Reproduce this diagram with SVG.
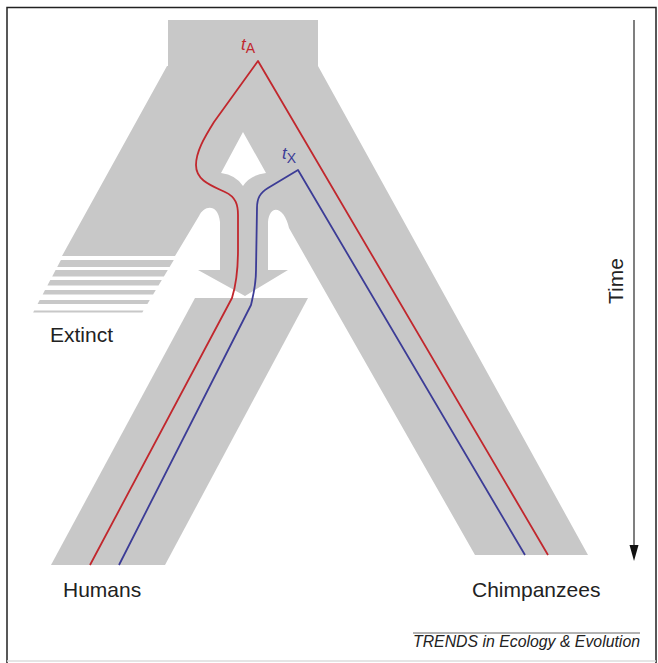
<svg xmlns="http://www.w3.org/2000/svg" width="658" height="663" viewBox="0 0 658 663">
<defs>
<style>
.grey{fill:#c8c8c8;stroke:none}
.lbl{font-family:"Liberation Sans",Arial,sans-serif;font-size:21px;fill:#222}
.red{fill:none;stroke:#c1272d;stroke-width:1.8;stroke-linejoin:round}
.blue{fill:none;stroke:#3c3c96;stroke-width:1.8;stroke-linejoin:round}
.tl{font-family:"Liberation Sans",Arial,sans-serif;font-style:italic;font-size:17px}
.sub{font-family:"Liberation Sans",Arial,sans-serif;font-size:14px}
</style>
</defs>
<rect x="0" y="0" width="658" height="663" fill="#fff"/>
<g id="frame" stroke-width="1.5" fill="none">
<path d="M7,663 L7,7.5 L656,7.5 L656,663" stroke="#222"/>
<path d="M7,661 L656,661" stroke="#ddd"/>
</g>
<g id="population">
<path class="grey" fill-rule="evenodd" d="M168,20 L318,20 L318,66 L588,555 L475,555 L289,228 C285,208 270,202 268,222 L268,270 L288,270 L245,296 L198,270 L220,270 L220,222 C218,203 204,205 199,216 L175,256 L62,256 L167,66 L168,66 Z M243,132 L266,173 Q250,175 243,186 Q236,175 221,173 Z"/>
</g>
<g id="extinct">
<path class="grey" d="M60.9,260 L173.8,260 L169.6,267 L57.2,267 Z M55.6,270 L167.8,270 L163.9,276.5 L52.2,276.5 Z M50.3,280 L161.8,280 L158.5,285.5 L47.4,285.5 Z M45,290 L155.8,290 L153.1,294.5 L42.7,294.5 Z M39.7,300 L149.8,300 L147.4,304 L37.6,304 Z M34.2,310.5 L143.5,310.5 L142.3,312.5 L33.1,312.5 Z"/>
<text class="lbl" x="50" y="342">Extinct</text>
</g>
<g id="humans">
<path class="grey" d="M195,298 L308,298 L165,565 L51,565 Z"/>
<text class="lbl" x="63" y="597">Humans</text>
</g>
<g id="chimpanzees">
<text class="lbl" x="472" y="597">Chimpanzees</text>
</g>
<g id="connectors">
<path class="red" d="M90,565 L232,298 C236,285 238,270 238,250 L238,215 C238,205 236,197 225,192 C210,185 196,180 196,165 C196,152 204,138 214,122 L258,61 L548,555"/>
<path class="blue" d="M119,565 L251,305 C254,292 256,285 256,270 L257,208 C257,198 260,193 268,188 L298,170 L525,555"/>
</g>
<g id="tA">
<text x="241" y="50" fill="#c1272d"><tspan class="tl">t</tspan><tspan class="sub" dy="3">A</tspan></text>
</g>
<g id="tX">
<text x="282" y="159" fill="#3c3c96"><tspan class="tl">t</tspan><tspan class="sub" dy="4">X</tspan></text>
</g>
<g id="time">
<line x1="634" y1="20" x2="634" y2="548" stroke="#555" stroke-width="1.5"/>
<path d="M629.5,545 L638.5,545 L634,561 Z" fill="#111"/>
<text class="lbl" transform="translate(623,281) rotate(-90)" text-anchor="middle">Time</text>
</g>
<g id="credit">
<line x1="413" y1="633" x2="640" y2="633" stroke="#666" stroke-width="1"/>
<text x="413" y="647" font-family="'Liberation Sans',Arial,sans-serif" font-style="italic" font-size="16" fill="#222" textLength="227" lengthAdjust="spacingAndGlyphs">TRENDS in Ecology &amp; Evolution</text>
</g>
</svg>
